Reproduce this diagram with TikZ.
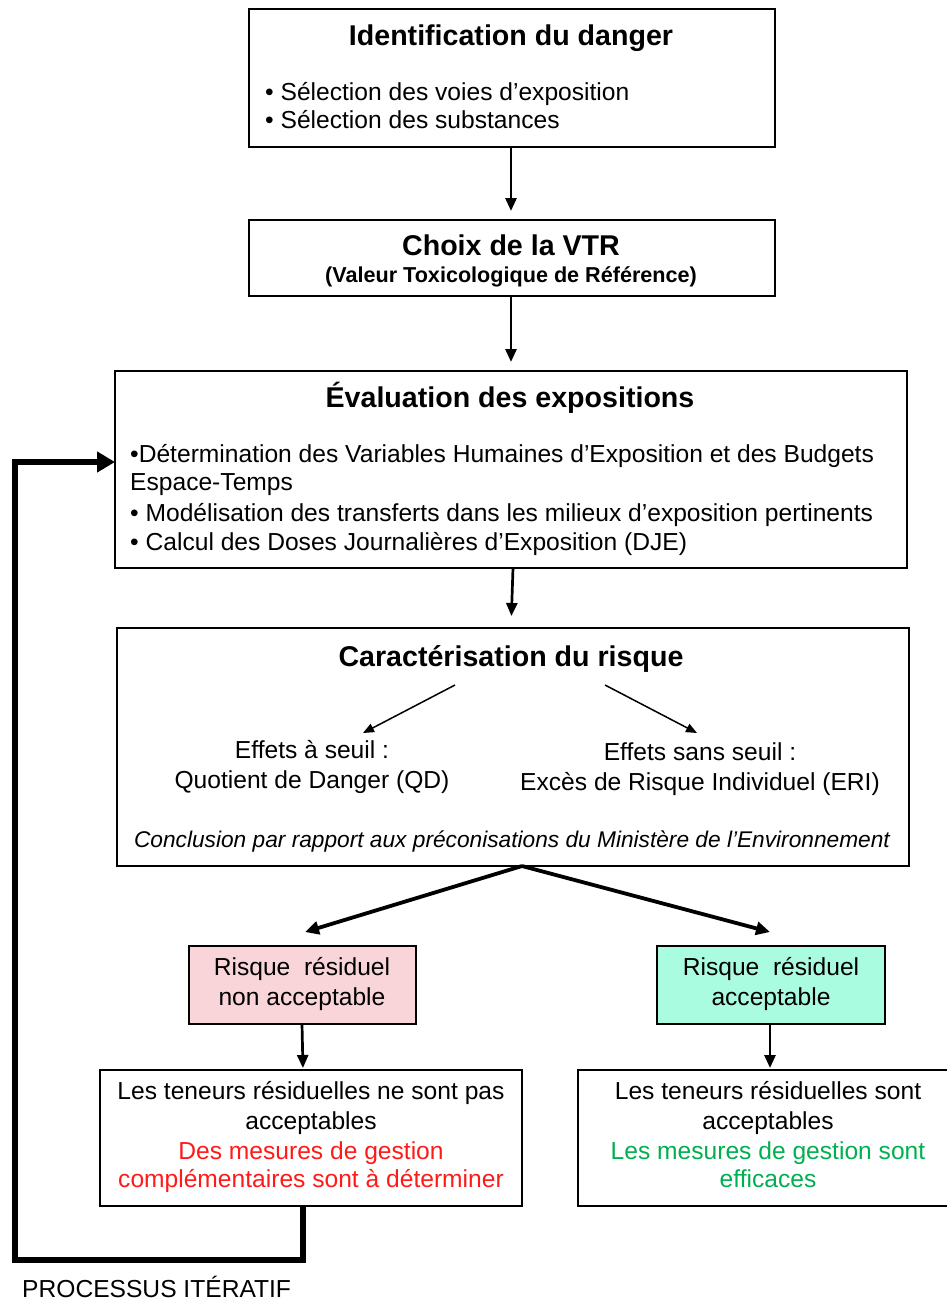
\documentclass[tikz,border=0pt]{standalone}
\usepackage{fontspec}
\setmainfont{Liberation Sans}
\usetikzlibrary{arrows.meta}
\definecolor{pinkfill}{HTML}{F9D5DA}
\definecolor{greenfill}{HTML}{AAFCE0}
\definecolor{redtxt}{HTML}{FF1A1A}
\definecolor{greentxt}{HTML}{00B050}
\begin{document}
\begin{tikzpicture}[x=1pt,y=-1pt,
  box/.style={draw=black, line width=1.6pt, inner sep=0pt, outer sep=0pt},
  body/.style={font=\fontsize{24.6}{29}\selectfont, inner sep=0pt},
  ttl/.style={font=\fontsize{28.6}{33}\selectfont\bfseries, inner sep=0pt, anchor=base},
  subttl/.style={font=\fontsize{21.6}{26}\selectfont\bfseries, inner sep=0pt, anchor=base},
  concl/.style={font=\fontsize{22.7}{27}\selectfont\itshape, inner sep=0pt, anchor=base},
  arr/.style={line width=2.7pt, -{Triangle[length=13pt,width=11pt]}},
  thinarr/.style={line width=1.5pt, -{Triangle[length=11pt,width=9pt]}},
  thickarr/.style={line width=3.8pt, -{Triangle[length=14pt,width=13pt]}},
  looparr/.style={line width=5.5pt, line join=miter, -{Triangle[length=18pt,width=20pt]}}
]
\useasboundingbox (0,0) rectangle (947,1302);

% boxes
\node[box, minimum width=526pt, minimum height=138pt] (box1) at (512,78) {};
\node[box, minimum width=526pt, minimum height=76pt] (box2) at (512,258) {};
\node[box, minimum width=792pt, minimum height=197pt] (box3) at (511,469.5) {};
\node[box, minimum width=792pt, minimum height=238pt] (box4) at (513,747) {};
\node[box, fill=pinkfill, minimum width=227pt, minimum height=78pt] (box5) at (302.5,985) {};
\node[box, fill=greenfill, minimum width=228pt, minimum height=78pt] (box6) at (771,985) {};
\node[box, minimum width=422pt, minimum height=136pt] (box7) at (311,1138) {};
\node[box, minimum width=374pt, minimum height=136pt] (box8) at (765,1138) {};

% box 1
\node[ttl] (t1) at (511,45) {Identification du danger};
\node[body, anchor=base west] (b1a) at (265,100) {• Sélection des voies d’exposition};
\node[body, anchor=base west] (b1b) at (265,128) {• Sélection des substances};

% box 2
\node[ttl] (t2) at (511,255) {Choix de la VTR};
\node[subttl] (s2) at (511,282) {(Valeur Toxicologique de Référence)};

% box 3
\node[ttl] (t3) at (510,407) {Évaluation des expositions};
\node[body, anchor=base west] (b3a) at (130,462) {•Détermination des Variables Humaines d’Exposition et des Budgets};
\node[body, anchor=base west] (b3b) at (130,490) {Espace-Temps};
\node[body, anchor=base west] (b3c) at (130,521) {• Modélisation des transferts dans les milieux d’exposition pertinents};
\node[body, anchor=base west] (b3d) at (130,550) {• Calcul des Doses Journalières d’Exposition (DJE)};

% box 4
\node[ttl] (t4) at (511,666) {Caractérisation du risque};
\node[body, anchor=base] (e1a) at (312,758) {Effets à seuil :};
\node[body, anchor=base] (e1b) at (312,788) {Quotient de Danger (QD)};
\node[body, anchor=base] (e2a) at (700,760) {Effets sans seuil :};
\node[body, anchor=base] (e2b) at (700,790) {Excès de Risque Individuel (ERI)};
\node[concl] (c4) at (512,847) {Conclusion par rapport aux préconisations du Ministère de l’Environnement};
\coordinate (sa) at (455,685);
\coordinate (sb) at (605,685);
\coordinate (ea) at (363,733);
\coordinate (eb) at (697,733);
\draw[thinarr] (sa) -- (ea);
\draw[thinarr] (sb) -- (eb);

% box 5, 6
\node[body, anchor=base] (r1a) at (302,975) {Risque~ résiduel};
\node[body, anchor=base] (r1b) at (302,1005) {non acceptable};
\node[body, anchor=base] (r2a) at (771,975) {Risque~ résiduel};
\node[body, anchor=base] (r2b) at (771,1005) {acceptable};

% box 7
\node[body, anchor=base] (l1a) at (311,1099) {Les teneurs résiduelles ne sont pas};
\node[body, anchor=base] (l1b) at (311,1129) {acceptables};
\node[body, anchor=base, text=redtxt] (l1c) at (311,1159) {Des mesures de gestion};
\node[body, anchor=base, text=redtxt] (l1d) at (311,1187) {complémentaires sont à déterminer};

% box 8
\node[body, anchor=base] (l2a) at (768,1099) {Les teneurs résiduelles sont};
\node[body, anchor=base] (l2b) at (768,1129) {acceptables};
\node[body, anchor=base, text=greentxt] (l2c) at (768,1159) {Les mesures de gestion sont};
\node[body, anchor=base, text=greentxt] (l2d) at (768,1187) {efficaces};

\node[body, anchor=base west] (proc) at (22,1297) {PROCESSUS ITÉRATIF};

% connectors
\draw[arr, shorten >=9pt] (box1.south -| 511,0) -- (box2.north -| 511,0);
\draw[arr, shorten >=9pt] (box2.south -| 511,0) -- (box3.north -| 511,0);
\draw[arr, shorten >=12pt] (box3.south -| 513,0) -- (box4.north -| 511,0);
\coordinate (d1) at (305,932);
\coordinate (d2) at (770,932);
\draw[thickarr] (box4.south -| 522,0) -- (d1);
\draw[thickarr] (box4.south -| 522,0) -- (d2);
\draw[arr, shorten >=2pt] (box5.south -| 302,0) -- (box7.north -| 303,0);
\draw[arr, shorten >=2pt] (box6.south -| 770,0) -- (box8.north -| 770,0);
\coordinate (lc1) at (303,1260);
\coordinate (lc2) at (15,1260);
\coordinate (lc3) at (15,462);
\draw[looparr] (box7.south -| 303,0) -- (lc1) -- (lc2) -- (lc3) -- (box3.west |- lc3);
\end{tikzpicture}
\end{document}
